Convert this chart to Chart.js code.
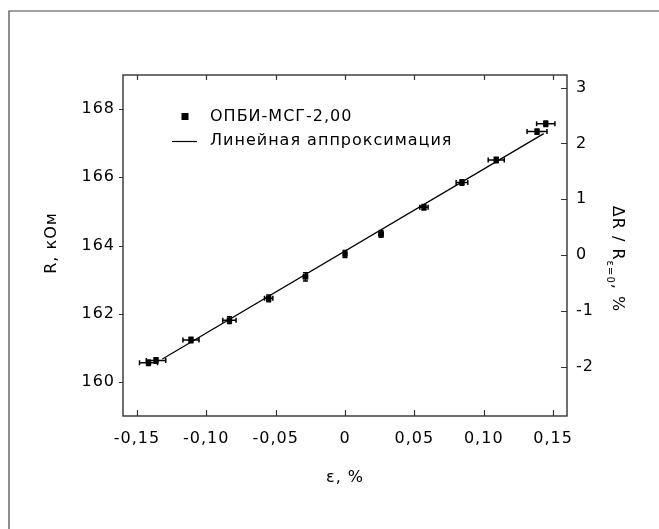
<!DOCTYPE html>
<html>
<head>
<meta charset="utf-8">
<script src="https://cdn.jsdelivr.net/npm/chart.js@4"></script>
<style>
  body { margin: 0; background: #fff; }
  canvas { display: block; }
</style>
</head>
<body>
<canvas id="chart" width="659" height="529"></canvas>
<script>
// measured points, strain (%) vs resistance (kOhm)
const strain = [-0.1416, -0.1362, -0.111, -0.0833, -0.055, -0.0285, 0, 0.026, 0.0569, 0.0843, 0.109, 0.1384, 0.1447];
const resistance = [160.56, 160.63, 161.23, 161.81, 162.45, 163.08, 163.75, 164.34, 165.12, 165.85, 166.51, 167.34, 167.57];
const strainErr = [0.0065, 0.007, 0.0058, 0.0048, 0.003, 0.0015, 0.001, 0.0015, 0.003, 0.0042, 0.0058, 0.0072, 0.0066];
const resistanceErr = [0.08, 0.08, 0.08, 0.1, 0.1, 0.12, 0.1, 0.1, 0.08, 0.08, 0.08, 0.08, 0.08];

// linear fit ends
const fitStrain = [-0.1316, 0.1432];
const fitResistance = [160.67, 167.28];

const xTicks = [-0.15, -0.10, -0.05, 0, 0.05, 0.10, 0.15];
const yTicks = [160, 162, 164, 166, 168];
const y2Ticks = [-2, -1, 0, 1, 2, 3];

const xMin = -0.16, xMax = 0.16;
const yMin = 159, yMax = 169;
const R0 = 163.72; // resistance at zero strain

const FONT = "'DejaVu Sans', sans-serif";
const INK = '#000';
const AXIS = '#333';

const fmt = (v) => v === 0 ? '0' : v.toFixed(2).replace('.', ',');

const frameAndTicks = {
  id: 'frameAndTicks',
  beforeDraw(chart) {
    const ctx = chart.ctx;
    ctx.letterSpacing = '1px'; // reference text is spaced out a bit
    ctx.save();
    ctx.strokeStyle = '#444';
    ctx.lineWidth = 1.2;
    ctx.beginPath();
    ctx.moveTo(9, 540);
    ctx.lineTo(9, 11);
    ctx.lineTo(670, 11);
    ctx.stroke();
    ctx.restore();
  },
  afterDraw(chart) {
    const ctx = chart.ctx;
    const a = chart.chartArea;
    const sx = chart.scales.x, sy = chart.scales.y, sy2 = chart.scales.y2;
    ctx.save();
    ctx.letterSpacing = '1px';
    ctx.strokeStyle = AXIS;
    ctx.lineWidth = 1.4;
    ctx.strokeRect(a.left, a.top, a.right - a.left, a.bottom - a.top);

    ctx.lineWidth = 1.2;
    ctx.beginPath();
    xTicks.forEach(v => {
      const px = Math.round(sx.getPixelForValue(v)) + 0.5;
      ctx.moveTo(px, a.bottom); ctx.lineTo(px, a.bottom - 6);
      ctx.moveTo(px, a.top); ctx.lineTo(px, a.top + 5);
    });
    yTicks.forEach(v => {
      const py = Math.round(sy.getPixelForValue(v)) + 0.5;
      ctx.moveTo(a.left, py); ctx.lineTo(a.left - 4, py);
    });
    y2Ticks.forEach(v => {
      const py = Math.round(sy2.getPixelForValue(v)) + 0.5;
      ctx.moveTo(a.right, py); ctx.lineTo(a.right - 6, py);
    });
    ctx.stroke();

    // axis titles
    ctx.fillStyle = INK;
    ctx.font = '16px ' + FONT;
    ctx.textAlign = 'center';
    ctx.textBaseline = 'middle';
    ctx.fillText('ε, %', (a.left + a.right) / 2, 478);

    ctx.save();
    ctx.translate(52, 243);
    ctx.rotate(-Math.PI / 2);
    ctx.fillText('R, кОм', 0, 0);
    ctx.restore();

    // right title with subscript
    ctx.save();
    ctx.translate(617, 259);
    ctx.rotate(Math.PI / 2);
    ctx.textAlign = 'left';
    const main = 'ΔR / R', sub = 'ε=0', tail = ', %';
    ctx.font = '16px ' + FONT;
    const w1 = ctx.measureText(main).width, w3 = ctx.measureText(tail).width;
    ctx.font = '10px ' + FONT;
    const w2 = ctx.measureText(sub).width;
    let x0 = -(w1 + w2 + w3) / 2;
    ctx.font = '16px ' + FONT;
    ctx.fillText(main, x0, 0);
    ctx.font = '10px ' + FONT;
    ctx.fillText(sub, x0 + w1, 7);
    ctx.font = '16px ' + FONT;
    ctx.fillText(tail, x0 + w1 + w2, 0);
    ctx.restore();

    // legend
    ctx.font = '16px ' + FONT;
    ctx.textAlign = 'left';
    ctx.fillRect(181.5, 113, 7, 7);
    ctx.fillText(chart.data.datasets[0].label, 210, 117);
    ctx.strokeStyle = INK;
    ctx.lineWidth = 1.2;
    ctx.beginPath();
    ctx.moveTo(172, 141.5); ctx.lineTo(197, 141.5);
    ctx.stroke();
    ctx.fillText(chart.data.datasets[1].label, 210, 141);
    ctx.restore();
  },
  afterDatasetsDraw(chart) {
    const ctx = chart.ctx;
    const sx = chart.scales.x, sy = chart.scales.y;
    const cap = 2.5;
    ctx.save();
    ctx.strokeStyle = INK;
    ctx.lineWidth = 1.5;
    ctx.beginPath();
    strain.forEach((x, i) => {
      const y = resistance[i];
      const px = sx.getPixelForValue(x), py = sy.getPixelForValue(y);
      const xl = sx.getPixelForValue(x - strainErr[i]), xr = sx.getPixelForValue(x + strainErr[i]);
      const yt = sy.getPixelForValue(y + resistanceErr[i]), yb = sy.getPixelForValue(y - resistanceErr[i]);
      ctx.moveTo(xl, py); ctx.lineTo(xr, py);
      ctx.moveTo(xl, py - cap); ctx.lineTo(xl, py + cap);
      ctx.moveTo(xr, py - cap); ctx.lineTo(xr, py + cap);
      ctx.moveTo(px, yt); ctx.lineTo(px, yb);
      ctx.moveTo(px - cap, yt); ctx.lineTo(px + cap, yt);
      ctx.moveTo(px - cap, yb); ctx.lineTo(px + cap, yb);
    });
    ctx.stroke();
    ctx.restore();
  }
};

new Chart(document.getElementById('chart'), {
  type: 'scatter',
  data: {
    datasets: [
      {
        label: 'ОПБИ-МСГ-2,00',
        data: strain.map((x, i) => ({ x: x, y: resistance[i] })),
        pointStyle: 'rect',
        pointRadius: 3.8,
        backgroundColor: INK,
        borderColor: INK,
        borderWidth: 0,
        order: 1
      },
      {
        label: 'Линейная аппроксимация',
        type: 'line',
        data: fitStrain.map((x, i) => ({ x: x, y: fitResistance[i] })),
        borderColor: INK,
        borderWidth: 1.3,
        pointRadius: 0,
        fill: false,
        order: 2
      }
    ]
  },
  options: {
    responsive: false,
    animation: false,
    devicePixelRatio: 1,
    layout: { padding: { top: 75, left: 0, right: 0, bottom: 0 } },
    plugins: {
      legend: { display: false },
      tooltip: { enabled: false }
    },
    scales: {
      x: {
        type: 'linear',
        position: 'bottom',
        min: xMin,
        max: xMax,
        afterBuildTicks: (s) => { s.ticks = xTicks.map(v => ({ value: v })); },
        afterFit: (s) => { s.height = 113; },
        grid: { display: false, drawTicks: false },
        border: { display: false },
        ticks: {
          padding: 13,
          color: INK,
          font: { family: FONT, size: 16 },
          maxRotation: 0,
          callback: (v) => fmt(v)
        }
      },
      y: {
        type: 'linear',
        position: 'left',
        min: yMin,
        max: yMax,
        afterBuildTicks: (s) => { s.ticks = yTicks.map(v => ({ value: v })); },
        afterFit: (s) => { s.width = 123; },
        grid: { display: false, drawTicks: false },
        border: { display: false },
        ticks: {
          padding: 8,
          color: INK,
          font: { family: FONT, size: 16 }
        }
      },
      y2: {
        type: 'linear',
        position: 'right',
        min: (yMin - R0) / R0 * 100,
        max: (yMax - R0) / R0 * 100,
        afterBuildTicks: (s) => { s.ticks = y2Ticks.map(v => ({ value: v })); },
        afterFit: (s) => { s.width = 92; },
        grid: { display: false, drawTicks: false },
        border: { display: false },
        ticks: {
          padding: 9,
          color: INK,
          font: { family: FONT, size: 16 }
        }
      }
    }
  },
  plugins: [frameAndTicks]
});
</script>
</body>
</html>
